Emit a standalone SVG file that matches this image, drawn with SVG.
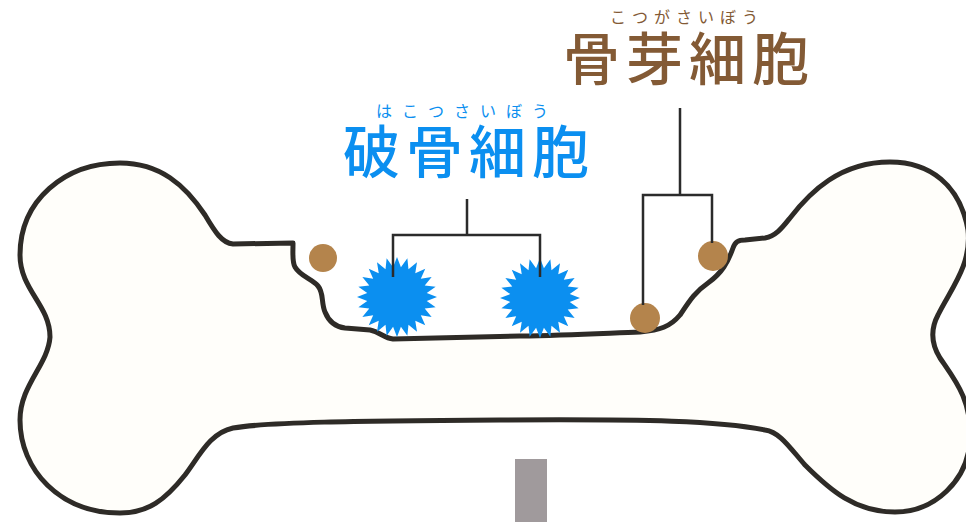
<svg xmlns="http://www.w3.org/2000/svg" xmlns:xlink="http://www.w3.org/1999/xlink" width="966" height="522" viewBox="0 0 966 522">
  <style>
    .bone { fill: #fffefa; stroke: #2e2b27; stroke-width: 5; stroke-linejoin: round; }
    .osteoclast { fill: #0b8ff0; }
    .osteoblast { fill: #b4844c; }
    .lead { fill: none; stroke: #2b2b2b; stroke-width: 2.5; stroke-linejoin: miter; }
    .jp { font-family: "Noto Sans CJK JP", "Noto Sans CJK SC", sans-serif; text-anchor: middle; }
    .title { font-size: 57px; font-weight: 500; letter-spacing: 6px; }
    .ruby { font-size: 16px; font-weight: 400; }
    .blue { fill: #0b8ff0; }
    .brown { fill: #835a35; }
  </style>
  <defs>
    <!-- 24-point burst used for the osteoclasts -->
    <polygon id="burst" points="40,0 29.74,3.92 38.64,10.35 27.72,11.48 34.64,20 23.8,18.26 28.28,28.28 18.26,23.8 20,34.64 11.48,27.72 10.35,38.64 3.92,29.74 0,40 -3.92,29.74 -10.35,38.64 -11.48,27.72 -20,34.64 -18.26,23.8 -28.28,28.28 -23.8,18.26 -34.64,20 -27.72,11.48 -38.64,10.35 -29.74,3.92 -40,0 -29.74,-3.92 -38.64,-10.35 -27.72,-11.48 -34.64,-20 -23.8,-18.26 -28.28,-28.28 -18.26,-23.8 -20,-34.64 -11.48,-27.72 -10.35,-38.64 -3.92,-29.74 0,-40 3.92,-29.74 10.35,-38.64 11.48,-27.72 20,-34.64 18.26,-23.8 28.28,-28.28 23.8,-18.26 34.64,-20 27.72,-11.48 38.64,-10.35 29.74,-3.92"/>
  </defs>

  <rect width="966" height="522" fill="#ffffff"/>

  <!-- stand under the bone -->
  <rect id="stand" x="515" y="459" width="32" height="63" fill="#a09a9c"/>

  <!-- bone outline with the resorbed upper surface -->
  <g id="bone">
    <path class="bone" d="M 233,244 L 293,243 C 293,255 292,262 295,267 C 300,276 312,279 318,286 C 324,293 321,303 325,312 C 329,322 336,327 345,328 L 370,330 C 380,332 384,338 393,339 C 430,338 470,337 520,336 C 570,335 610,333 640,332 C 660,330 670,327 680,315 C 690,300 695,292 708,283 C 722,273 728,262 733,248 C 735,242 738,240 745,240 L 765,238 C 776,236 782,228 790,218 C 810,192 840,162 890,162 C 930,162 960,185 968,230 C 972,265 950,290 938,315 C 930,330 932,345 940,358 C 955,380 972,400 970,440 C 968,480 935,512 895,512 C 855,512 830,490 805,465 C 790,448 780,432 765,430 C 720,421 650,419 500,420 C 350,421 270,422 233,428 C 210,433 200,455 185,475 C 165,500 148,513 120,513 C 60,513 20,470 20,420 C 20,385 48,365 50,337 C 50,305 20,290 20,255 C 20,200 65,163 120,163 C 160,163 185,185 205,215 C 215,232 222,243 233,244 Z"/>
  </g>

  <!-- osteoclasts -->
  <g id="osteoclast-1"><use xlink:href="#burst" href="#burst" class="osteoclast" transform="translate(397,297)"/></g>
  <g id="osteoclast-2"><use xlink:href="#burst" href="#burst" class="osteoclast" transform="translate(540,298)"/></g>

  <!-- osteoblasts -->
  <g id="osteoblast-1"><circle class="osteoblast" cx="323" cy="258" r="14"/></g>
  <g id="osteoblast-2"><circle class="osteoblast" cx="713" cy="256" r="15"/></g>
  <g id="osteoblast-3"><circle class="osteoblast" cx="645" cy="318" r="15"/></g>

  <!-- leader lines -->
  <g id="connectors">
    <path class="lead" d="M 467,199 V 235 M 393,277 V 235 H 540 V 277"/>
    <path class="lead" d="M 680,108 V 195 M 643,305 V 195 H 712 V 243"/>
  </g>

  <!-- labels -->
  <g id="label-osteoclast">
    <text class="jp ruby blue" x="467" y="117" style="letter-spacing:10px">はこつさいぼう</text>
    <text class="jp title blue" x="469" y="173">破骨細胞</text>
  </g>
  <g id="label-osteoblast">
    <text class="jp ruby brown" x="687" y="23" style="letter-spacing:6px">こつがさいぼう</text>
    <text class="jp title brown" x="689" y="80">骨芽細胞</text>
  </g>
</svg>
